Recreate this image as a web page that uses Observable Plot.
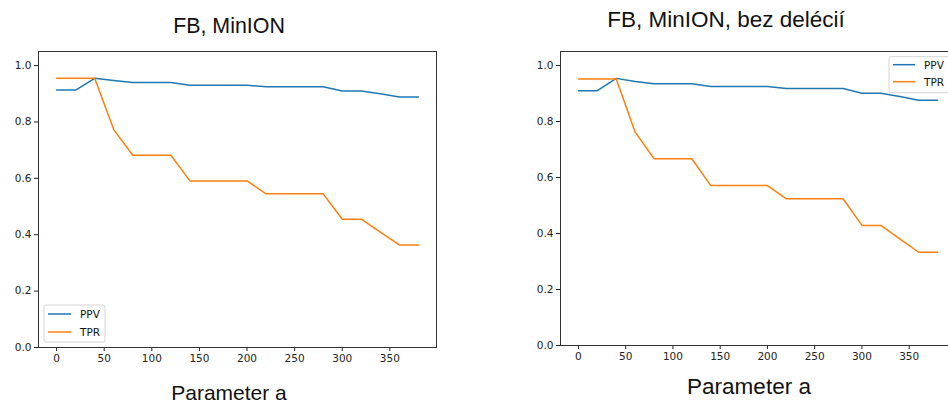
<!DOCTYPE html>
<html>
<head>
<meta charset="utf-8">
<script src="https://cdn.jsdelivr.net/npm/d3@7"></script>
<script src="https://cdn.jsdelivr.net/npm/@observablehq/plot@0.6"></script>
<style>
  html, body { margin: 0; padding: 0; background: #fff; overflow: hidden; }
  #wrap { position: relative; width: 948px; height: 405px; overflow: hidden; }
  #wrap > svg, #wrap > div { position: absolute; top: 0; }
  text { font-family: "DejaVu Sans", sans-serif; }
</style>
</head>
<body>
<div id="wrap"></div>
<script>
// ---- data ----
const paramA = [0, 20, 40, 60, 80, 100, 120, 140, 160, 180, 200, 220, 240, 260, 280, 300, 320, 340, 360, 380];

const titles = ["FB, MinION", "FB, MinION, bez delécií"];
const xLabel = "Parameter a";
const seriesNames = ["PPV", "TPR"];
const seriesColors = ["#1f77b4", "#ff7f0e"];

const ppv1 = [0.913, 0.913, 0.955, 0.947, 0.940, 0.940, 0.940, 0.930, 0.930, 0.930, 0.930, 0.925, 0.925, 0.925, 0.925, 0.910, 0.910, 0.900, 0.889, 0.889];
const tpr1 = [0.955, 0.955, 0.955, 0.773, 0.682, 0.682, 0.682, 0.591, 0.591, 0.591, 0.591, 0.545, 0.545, 0.545, 0.545, 0.455, 0.455, 0.409, 0.364, 0.364];

const ppv2 = [0.910, 0.910, 0.954, 0.943, 0.935, 0.935, 0.935, 0.925, 0.925, 0.925, 0.925, 0.918, 0.918, 0.918, 0.918, 0.901, 0.901, 0.889, 0.876, 0.876];
const tpr2 = [0.952, 0.952, 0.952, 0.762, 0.667, 0.667, 0.667, 0.571, 0.571, 0.571, 0.571, 0.524, 0.524, 0.524, 0.524, 0.429, 0.429, 0.381, 0.333, 0.333];

const xTicks = [0, 50, 100, 150, 200, 250, 300, 350];
const yTicks = [0.0, 0.2, 0.4, 0.6, 0.8, 1.0];

// ---- build ----
function table(ppv, tpr) {
  const rows = [];
  [ppv, tpr].forEach((vals, s) => {
    vals.forEach((v, i) => rows.push({a: paramA[i], v, series: seriesNames[s]}));
  });
  return rows;
}

function panel(rows, opts) {
  return Plot.plot({
    width: opts.width, height: 405,
    marginLeft: opts.ml, marginRight: opts.mr, marginTop: opts.mt, marginBottom: opts.mb,
    style: {fontFamily: "DejaVu Sans, sans-serif", fontSize: "10.5px", color: "#222", background: "transparent", overflow: "visible"},
    x: {domain: [-19, 399]},
    y: {domain: [0, 1.05]},
    color: {domain: seriesNames, range: seriesColors},
    marks: [
      Plot.axisX({ticks: xTicks, tickSize: 4, tickPadding: 3, label: null, fontSize: 10.5}),
      Plot.axisY({ticks: yTicks, tickSize: 4, tickPadding: 3, label: null, tickFormat: d3.format(".1f"), fontSize: 10.5}),
      Plot.line(rows, {x: "a", y: "v", z: "series", stroke: "series", strokeWidth: 1.5}),
      Plot.frame({stroke: "#333", strokeWidth: 1})
    ]
  });
}

const wrap = document.getElementById("wrap");

const p1 = panel(table(ppv1, tpr1), {width: 470, ml: 38, mr: 34, mt: 51, mb: 58});
p1.style.left = "0px";
wrap.appendChild(p1);

const p2 = panel(table(ppv2, tpr2), {width: 490, ml: 80, mr: 15, mt: 51, mb: 60});
p2.style.left = "480px";
wrap.appendChild(p2);

// overlay: titles, axis labels, legends
const ns = "http://www.w3.org/2000/svg";
const ov = document.createElementNS(ns, "svg");
ov.setAttribute("width", 948);
ov.setAttribute("height", 405);
ov.style.left = "0px";
ov.style.pointerEvents = "none";
wrap.appendChild(ov);

function txt(str, x, y, size, anchor, family) {
  const t = document.createElementNS(ns, "text");
  t.setAttribute("x", x); t.setAttribute("y", y);
  t.setAttribute("text-anchor", anchor || "middle");
  t.setAttribute("font-size", size);
  t.setAttribute("fill", "#111");
  t.style.fontFamily = family || "'Liberation Sans', Arial, sans-serif";
  t.textContent = str;
  ov.appendChild(t);
}
txt(titles[0], 229, 33.3, 21.4);
txt(titles[1], 726, 27.3, 22.5);
txt(xLabel, 229, 400, 21);
txt(xLabel, 749, 394.3, 22.5);

function legend(x0, y0, w, h, lineX0, lineX1, ys, textX) {
  const r = document.createElementNS(ns, "rect");
  r.setAttribute("x", x0); r.setAttribute("y", y0);
  r.setAttribute("width", w); r.setAttribute("height", h);
  r.setAttribute("rx", 2);
  r.setAttribute("fill", "#fff"); r.setAttribute("fill-opacity", 0.8);
  r.setAttribute("stroke", "#d5d5d5"); r.setAttribute("stroke-width", 1);
  ov.appendChild(r);
  seriesNames.forEach((name, i) => {
    const l = document.createElementNS(ns, "line");
    l.setAttribute("x1", lineX0); l.setAttribute("x2", lineX1);
    l.setAttribute("y1", ys[i]); l.setAttribute("y2", ys[i]);
    l.setAttribute("stroke", seriesColors[i]); l.setAttribute("stroke-width", 1.5);
    ov.appendChild(l);
    txt(name, textX, ys[i] + 3.8, 10.5, "start", "'DejaVu Sans', sans-serif");
  });
}
legend(44, 305, 61, 37, 48, 71, [314, 332], 80);
legend(889, 56.7, 70, 36, 893, 915, [64.7, 81.7], 924);
</script>
</body>
</html>
